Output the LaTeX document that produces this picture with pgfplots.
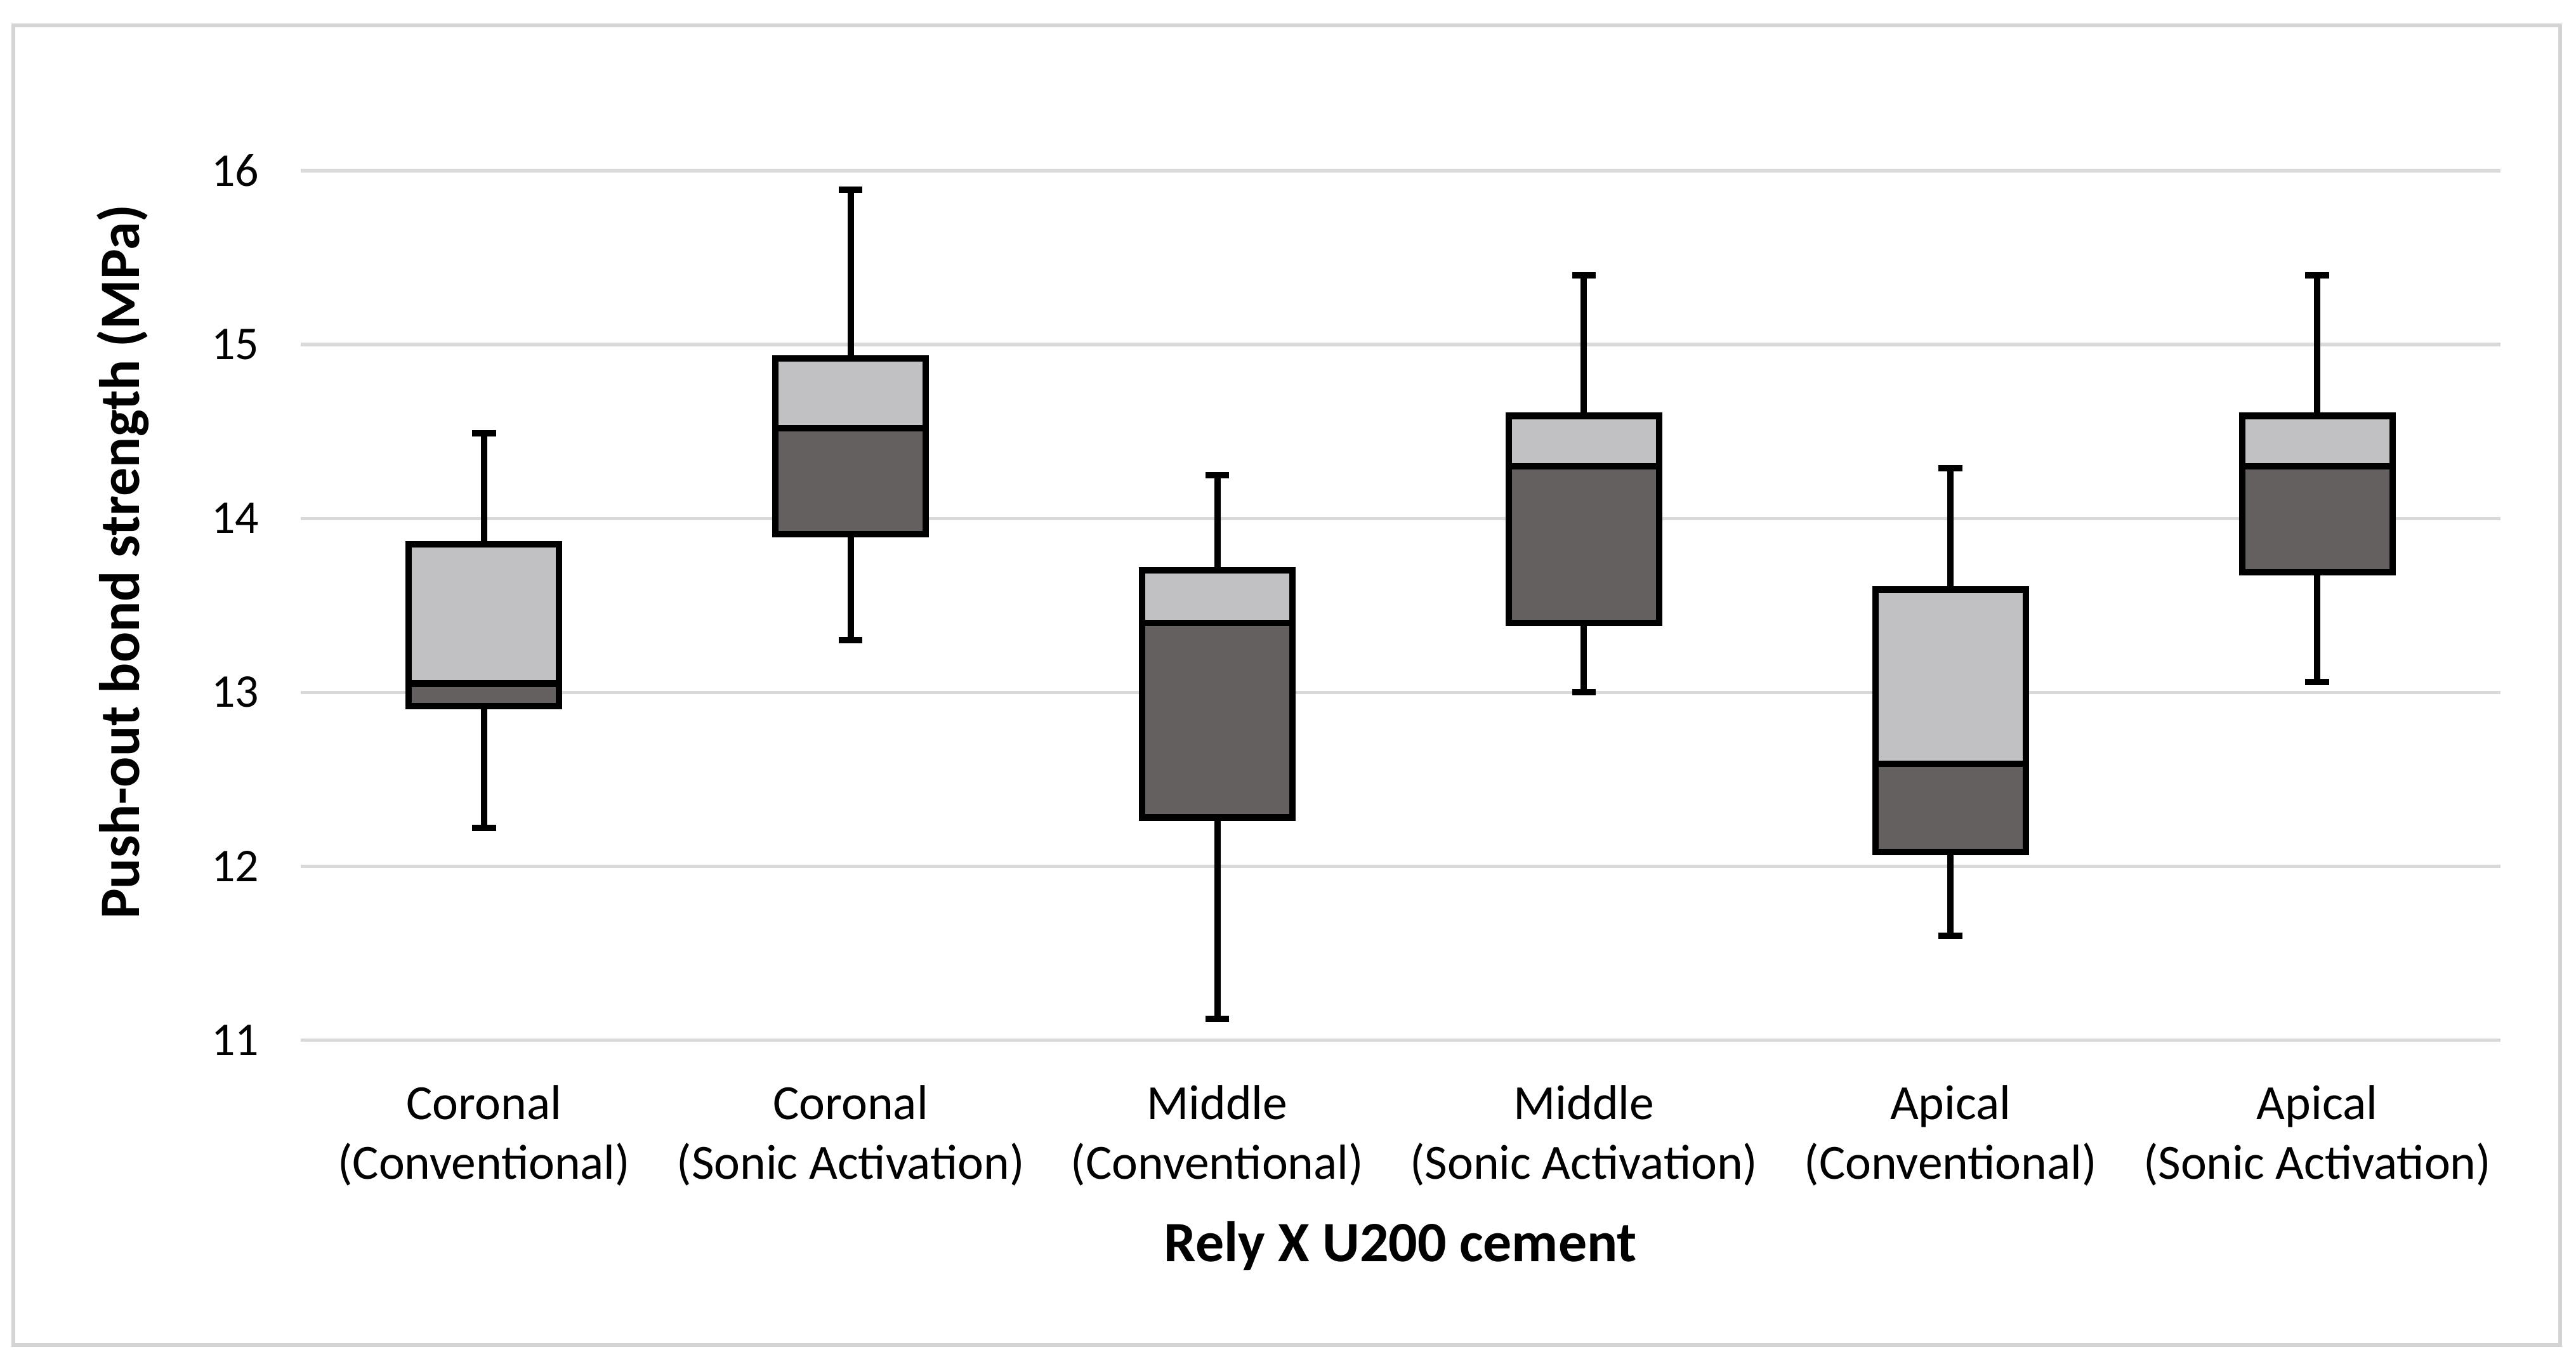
\documentclass[border=0pt]{standalone}
\usepackage{fontspec}
\setmainfont{Carlito}
\usepackage{pgfplots}
\pgfplotsset{compat=1.18}
\usepgfplotslibrary{statistics}
\definecolor{boxlight}{HTML}{C1C0C2}
\definecolor{boxdark}{HTML}{656060}
\definecolor{gridgray}{HTML}{D9D9D9}
\definecolor{framegray}{HTML}{D4D4D4}

\pgfplotsset{
  fullbox/.style={draw=black, fill=boxlight, line width=1.7pt, solid},
  lowbox/.style={draw=black, fill=boxdark, line width=1.7pt, solid},
}

\begin{document}
\begin{tikzpicture}
\path[use as bounding box] (0,0) rectangle (686.3pt,363.3pt);
\draw[framegray, line width=1pt] (3.5pt,4.9pt) rectangle (682.1pt,356.5pt);
\begin{axis}[
  at={(80.1pt,86.2pt)}, anchor=south west,
  scale only axis, width=586.1pt, height=231.6pt,
  xmin=0.5, xmax=6.5, ymin=11, ymax=16,
  xtick={1,2,3,4,5,6}, ytick={11,12,13,14,15,16},
  xticklabels={{Coronal\\(Conventional)},{Coronal\\(Sonic Activation)},
    {Middle\\(Conventional)},{Middle\\(Sonic Activation)},
    {Apical\\(Conventional)},{Apical\\(Sonic Activation)}},
  axis line style={draw=none}, major tick length=0pt,
  ymajorgrids, grid style={gridgray, line width=0.9pt},
  /pgf/number format/assume math mode=true,
  xticklabel style={align=center, anchor=north, yshift=-8.6pt,
    font=\fontsize{13.1}{15.8}\selectfont},
  yticklabel style={anchor=east, xshift=-7.6pt, font=\fontsize{12.5}{14}\selectfont},
  xlabel={\textbf{Rely X U200 cement}},
  ylabel={\textbf{Push-out bond strength (MPa)}},
  every axis x label/.style={at={(axis description cs:0.5,0)}, yshift=-59.1pt,
    anchor=base, font=\fontsize{15.2}{18}\selectfont},
  every axis y label/.style={at={(axis description cs:-0.0807,0.55)}, rotate=90,
    anchor=center, font=\fontsize{15.2}{18}\selectfont},
  boxplot/draw direction=y,
  boxplot/box extend=0.41,
  boxplot/whisker extend=0.065,
]
% full box (Q1..Q3) with whiskers, light fill
\addplot[fullbox, boxplot prepared={draw position=1, lower whisker=12.22, lower quartile=12.92, median=13.05, upper quartile=13.85, upper whisker=14.49}] coordinates {};
\addplot[fullbox, boxplot prepared={draw position=2, lower whisker=13.30, lower quartile=13.91, median=14.52, upper quartile=14.92, upper whisker=15.89}] coordinates {};
\addplot[fullbox, boxplot prepared={draw position=3, lower whisker=11.12, lower quartile=12.28, median=13.40, upper quartile=13.70, upper whisker=14.25}] coordinates {};
\addplot[fullbox, boxplot prepared={draw position=4, lower whisker=13.00, lower quartile=13.40, median=14.30, upper quartile=14.59, upper whisker=15.40}] coordinates {};
\addplot[fullbox, boxplot prepared={draw position=5, lower whisker=11.60, lower quartile=12.08, median=12.59, upper quartile=13.59, upper whisker=14.29}] coordinates {};
\addplot[fullbox, boxplot prepared={draw position=6, lower whisker=13.06, lower quartile=13.69, median=14.30, upper quartile=14.59, upper whisker=15.40}] coordinates {};
% lower half (Q1..median), dark fill
\addplot[lowbox, boxplot prepared={draw position=1, lower whisker=12.92, lower quartile=12.92, median=13.05, upper quartile=13.05, upper whisker=13.05, whisker extend=0}] coordinates {};
\addplot[lowbox, boxplot prepared={draw position=2, lower whisker=13.91, lower quartile=13.91, median=14.52, upper quartile=14.52, upper whisker=14.52, whisker extend=0}] coordinates {};
\addplot[lowbox, boxplot prepared={draw position=3, lower whisker=12.28, lower quartile=12.28, median=13.40, upper quartile=13.40, upper whisker=13.40, whisker extend=0}] coordinates {};
\addplot[lowbox, boxplot prepared={draw position=4, lower whisker=13.40, lower quartile=13.40, median=14.30, upper quartile=14.30, upper whisker=14.30, whisker extend=0}] coordinates {};
\addplot[lowbox, boxplot prepared={draw position=5, lower whisker=12.08, lower quartile=12.08, median=12.59, upper quartile=12.59, upper whisker=12.59, whisker extend=0}] coordinates {};
\addplot[lowbox, boxplot prepared={draw position=6, lower whisker=13.69, lower quartile=13.69, median=14.30, upper quartile=14.30, upper whisker=14.30, whisker extend=0}] coordinates {};
\end{axis}
\end{tikzpicture}
\end{document}
